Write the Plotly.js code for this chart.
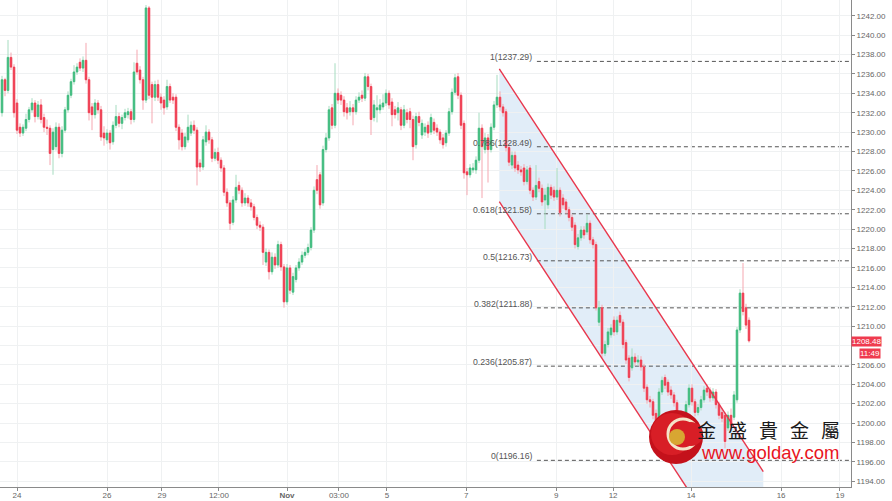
<!DOCTYPE html>
<html>
<head>
<meta charset="utf-8">
<script src="https://cdn.plot.ly/plotly-3.0.1.min.js"></script>
<style>html,body{margin:0;padding:0;background:#fff;}#chart{width:892px;height:501px;}</style>
</head>
<body>
<div id="chart"></div>
<script>
// ---- data (XAUUSD candles) ----
const openP = [1232.0,1235.4,1234.3,1237.7,1236.7,1233.0,1230.5,1229.9,1230.4,1231.3,1232.3,1233.0,1231.6,1232.8,1231.5,1230.5,1230.4,1228.2,1228.5,1230.5,
1227.8,1230.2,1232.3,1233.8,1235.2,1236.2,1237.2,1236.6,1237.4,1235.4,1232.6,1231.8,1233.0,1232.3,1229.9,1229.2,1229.9,1229.0,1230.7,1231.6,
1230.9,1231.5,1231.8,1232.1,1231.3,1237.1,1236.4,1235.4,1233.3,1242.8,1234.9,1233.6,1234.9,1233.6,1233.3,1232.6,1234.7,1233.6,1233.6,1230.5,
1229.9,1228.5,1229.2,1229.9,1230.7,1230.2,1226.8,1226.4,1229.0,1230.0,1229.2,1227.3,1227.9,1227.1,1226.3,1223.8,1222.7,1220.7,1223.0,1224.5,
1224.0,1222.7,1223.2,1222.7,1222.3,1221.2,1220.4,1220.2,1216.6,1217.6,1215.6,1217.1,1216.3,1218.4,1216.1,1212.5,1216.0,1213.5,1214.8,1216.0,
1216.6,1217.3,1217.6,1218.1,1219.9,1225.1,1225.6,1222.7,1228.2,1229.4,1232.5,1230.7,1234.0,1233.8,1233.3,1232.5,1232.1,1232.5,1232.1,1233.3,
1233.8,1233.5,1235.7,1234.7,1231.5,1232.3,1232.3,1232.6,1233.0,1234.0,1233.1,1232.3,1232.0,1232.3,1230.7,1232.0,1232.1,1231.3,1228.7,1231.6,
1229.7,1230.0,1230.7,1230.0,1231.0,1230.4,1230.0,1229.4,1228.9,1229.9,1232.1,1234.1,1235.7,1233.8,1230.9,1225.9,1225.6,1226.1,1226.1,1227.1,
1230.4,1228.2,1229.4,1228.2,1230.5,1232.8,1233.6,1232.6,1232.1,1228.4,1226.6,1227.6,1226.6,1226.1,1226.3,1224.9,1226.3,1224.0,1223.3,1224.9,
1224.2,1223.0,1222.5,1224.3,1224.0,1223.3,1224.0,1223.2,1222.8,1222.0,1221.2,1220.4,1218.2,1219.1,1219.9,1219.7,1220.6,1218.9,1218.4,1210.4,
1211.9,1207.2,1208.1,1209.1,1210.6,1209.4,1211.1,1210.4,1208.3,1206.7,1205.7,1206.8,1206.3,1206.5,1205.8,1203.7,1202.4,1202.2,1201.0,1200.3,
1203.2,1204.7,1204.2,1203.4,1202.9,1202.1,1200.5,1197.9,1199.5,1201.9,1203.6,1202.2,1201.1,1201.6,1202.4,1203.6,1203.4,1202.6,1203.2,1201.9,
1201.1,1200.8,1199.5,1200.8,1200.6,1202.4,1209.6,1213.4,1211.9,1210.6];
const highP = [1235.8,1235.6,1239.5,1238.2,1237.0,1233.4,1230.9,1230.8,1231.9,1232.6,1233.5,1233.3,1233.2,1233.4,1231.9,1231.3,1230.7,1230.4,1231.0,1230.9,
1230.6,1232.6,1234.2,1235.5,1236.9,1237.1,1237.6,1237.8,1239.2,1235.7,1233.0,1233.4,1233.3,1232.7,1230.6,1230.3,1230.2,1231.1,1232.8,1232.0,
1231.8,1232.4,1232.5,1232.4,1237.2,1238.5,1236.8,1235.7,1243.1,1243.0,1235.2,1235.3,1235.4,1234.0,1233.7,1235.4,1235.0,1234.0,1233.9,1230.8,
1230.3,1229.9,1231.8,1231.1,1231.2,1230.5,1227.2,1229.6,1230.7,1230.3,1229.5,1228.3,1228.4,1227.4,1226.6,1224.2,1223.0,1223.4,1225.6,1224.9,
1224.3,1223.7,1223.5,1223.1,1222.6,1221.5,1220.8,1220.5,1218.0,1217.9,1217.6,1217.5,1218.8,1218.7,1216.4,1216.4,1216.3,1215.5,1216.3,1217.0,
1217.7,1218.0,1218.5,1220.2,1224.4,1226.6,1225.9,1228.6,1229.9,1232.7,1232.9,1237.1,1234.5,1234.2,1233.7,1233.0,1233.2,1232.9,1233.7,1234.1,
1234.3,1236.1,1236.0,1235.0,1233.3,1233.8,1233.4,1233.9,1234.4,1234.3,1233.5,1232.7,1233.1,1232.6,1232.8,1232.4,1232.5,1231.7,1232.0,1232.1,
1231.3,1230.9,1231.1,1231.9,1231.4,1230.8,1230.3,1229.8,1230.2,1232.5,1234.5,1236.0,1236.1,1234.1,1231.2,1226.3,1226.7,1226.8,1227.5,1232.0,
1230.8,1229.9,1229.8,1230.9,1233.2,1235.9,1234.2,1232.9,1232.4,1228.7,1228.0,1228.0,1227.0,1226.5,1226.7,1226.5,1226.6,1224.3,1226.6,1225.3,
1224.6,1224.2,1224.7,1224.6,1224.4,1226.3,1224.3,1223.6,1223.1,1222.3,1221.5,1220.7,1219.5,1220.3,1220.3,1221.5,1220.9,1219.2,1218.7,1212.6,
1212.2,1208.5,1209.8,1210.2,1211.0,1211.0,1211.5,1210.7,1208.6,1207.0,1207.7,1207.2,1207.0,1206.9,1206.1,1204.0,1202.8,1202.5,1201.4,1203.6,
1204.8,1205.0,1204.5,1203.8,1203.2,1202.4,1200.8,1199.9,1202.3,1204.0,1204.0,1202.5,1202.0,1202.8,1203.8,1204.0,1203.7,1203.6,1203.5,1202.2,
1201.5,1201.1,1201.2,1201.5,1203.3,1209.9,1213.8,1216.5,1212.3,1210.9];
const lowP = [1231.6,1233.7,1234.0,1236.4,1231.5,1229.8,1229.5,1229.6,1230.1,1231.0,1232.0,1231.0,1231.3,1230.9,1230.0,1229.7,1226.6,1225.6,1228.1,1227.3,
1227.4,1229.9,1232.0,1233.5,1234.9,1235.9,1236.3,1236.2,1235.0,1231.2,1230.2,1231.4,1231.9,1229.1,1228.6,1228.8,1228.2,1228.7,1230.4,1230.5,
1230.3,1231.2,1231.4,1230.8,1231.0,1235.9,1235.0,1232.3,1233.0,1233.4,1230.9,1233.2,1233.2,1232.3,1231.8,1232.3,1233.0,1232.9,1230.1,1228.2,
1228.1,1228.2,1228.9,1229.6,1229.8,1224.5,1225.9,1226.1,1228.6,1228.8,1226.9,1227.0,1226.7,1225.9,1223.4,1222.3,1219.9,1220.4,1222.7,1223.6,
1222.3,1222.4,1222.3,1221.9,1220.9,1220.0,1219.8,1216.3,1216.2,1214.8,1215.3,1215.9,1216.0,1215.7,1211.9,1212.2,1213.3,1213.2,1214.5,1215.7,
1216.3,1217.0,1217.3,1217.8,1219.6,1223.6,1222.1,1222.4,1227.9,1229.1,1230.3,1230.4,1232.9,1232.8,1231.6,1231.3,1231.7,1230.7,1231.8,1233.0,
1233.1,1233.2,1234.3,1229.7,1231.1,1231.0,1231.9,1232.3,1232.7,1232.4,1230.6,1231.4,1231.2,1230.2,1230.4,1230.9,1230.4,1227.1,1228.3,1230.6,
1229.3,1229.6,1229.4,1229.7,1229.8,1229.6,1228.8,1228.3,1228.5,1229.6,1231.8,1233.8,1233.4,1230.3,1225.2,1223.5,1225.3,1225.8,1225.7,1226.8,
1223.2,1227.8,1224.8,1227.9,1230.2,1232.5,1232.2,1231.6,1228.0,1226.5,1226.2,1225.9,1225.7,1225.5,1224.5,1224.6,1223.6,1222.9,1223.0,1223.8,
1222.4,1220.0,1222.1,1223.1,1222.9,1223.0,1221.3,1222.1,1221.6,1220.8,1219.8,1218.0,1217.9,1218.8,1219.0,1219.4,1218.5,1218.0,1211.6,1210.0,
1206.7,1206.9,1207.8,1208.8,1209.0,1209.1,1210.0,1207.7,1206.1,1204.3,1205.4,1205.9,1205.9,1205.4,1203.2,1202.0,1201.6,1200.4,1199.6,1200.0,
1202.9,1203.5,1202.8,1202.5,1201.7,1200.1,1197.4,1197.6,1199.2,1201.6,1201.8,1200.7,1200.8,1201.3,1202.1,1202.8,1202.2,1202.3,1201.5,1200.4,
1200.1,1197.4,1199.2,1199.4,1200.3,1202.1,1209.3,1211.1,1209.7,1208.3];
const closeP = [1235.4,1234.3,1237.7,1236.7,1232.0,1230.2,1229.9,1230.5,1231.3,1232.3,1233.0,1231.6,1232.8,1231.3,1230.5,1230.4,1227.8,1230.0,1230.5,1227.8,
1230.2,1232.3,1233.8,1235.2,1236.2,1236.7,1236.6,1237.4,1235.4,1232.0,1231.8,1233.0,1232.3,1229.5,1229.4,1229.9,1228.9,1230.7,1231.6,1230.9,
1231.5,1232.0,1232.1,1231.3,1236.2,1236.2,1235.4,1233.3,1242.8,1233.8,1233.6,1234.9,1233.6,1233.0,1232.5,1234.7,1233.3,1233.3,1230.5,1229.2,
1228.5,1229.5,1230.5,1230.7,1230.2,1226.4,1226.4,1229.2,1230.0,1229.2,1227.3,1227.9,1227.1,1226.3,1223.8,1222.7,1220.6,1223.0,1224.3,1224.0,
1222.7,1223.2,1222.7,1222.3,1221.2,1220.4,1220.2,1217.6,1217.6,1215.6,1217.1,1216.3,1218.4,1216.1,1212.5,1216.0,1213.7,1215.1,1216.0,1216.6,
1217.3,1217.6,1218.1,1219.9,1224.0,1224.0,1222.5,1228.2,1229.4,1232.3,1230.7,1234.0,1233.3,1233.3,1232.1,1232.0,1232.5,1232.1,1233.3,1233.6,
1233.5,1235.7,1234.7,1231.3,1232.8,1232.5,1232.8,1233.0,1234.0,1232.8,1231.8,1231.8,1232.5,1230.7,1232.3,1231.3,1231.3,1228.5,1231.6,1231.0,
1230.9,1230.5,1229.9,1231.5,1230.2,1230.0,1229.2,1228.7,1229.9,1232.1,1234.1,1235.6,1233.8,1230.7,1225.8,1225.6,1226.3,1226.3,1227.1,1230.4,
1228.5,1229.4,1228.2,1230.5,1232.8,1233.6,1232.6,1232.0,1228.4,1226.9,1227.6,1226.3,1226.1,1225.9,1224.9,1226.1,1224.0,1223.3,1224.5,1224.2,
1222.8,1223.5,1224.3,1223.5,1223.3,1224.0,1221.7,1222.5,1222.0,1221.2,1220.2,1218.4,1219.1,1219.9,1219.4,1220.6,1218.9,1218.4,1211.9,1211.9,
1207.2,1208.1,1209.4,1209.8,1209.4,1210.6,1210.4,1208.1,1206.5,1204.7,1206.8,1206.3,1206.5,1205.8,1203.6,1202.4,1202.2,1200.8,1200.1,1203.2,
1204.4,1203.9,1203.2,1202.9,1202.1,1200.5,1198.3,1199.5,1201.9,1203.6,1202.2,1201.1,1201.6,1202.4,1203.4,1203.2,1202.6,1203.2,1201.9,1200.8,
1200.5,1198.1,1200.8,1199.8,1202.9,1209.6,1213.4,1211.5,1210.1,1208.48];

// x axis date labels and the bar position where each falls
const tickBars   = [5, 35, 53.3, 72.3, 95, 112.3, 128.3, 154.7, 184.7, 203.7, 229.7, 259.7, 279.3];
const tickLabels = ['24','26','29','12:00','<b>Nov</b>','03:00','5','7','9','12','14','16','19'];

// price axis ticks (the 1208.00 label is hidden behind the last-price tag)
const yTickVals = [1194,1196,1198,1200,1202,1204,1206,1208,1210,1212,1214,1216,1218,1220,1222,1224,1226,1228,1230,1232,1234,1236,1238,1240,1242];
const yTickText = ['1194.00','1196.00','1198.00','1200.00','1202.00','1204.00','1206.00','','1210.00','1212.00','1214.00','1216.00','1218.00','1220.00','1222.00','1224.00','1226.00','1228.00','1230.00','1232.00','1234.00','1236.00','1238.00','1240.00','1242.00'];

// Fibonacci retracement
const fibRatios = ['1','0.786','0.618','0.5','0.382','0.236','0'];
const fibPrices = [1237.29, 1228.49, 1221.58, 1216.73, 1211.88, 1205.87, 1196.16];
const fibStartBar = 178.3;

// descending parallel channel (bar, price)
const channelBars  = [165.77, 253.77];
const channelUpper = [1236.51, 1194.99];
const channelLower = [1222.82, 1181.30];

const lastPrice = 1208.48;
const lastTime = '11:49';

// ---- drawing ----
const N = closeP.length;
const bars = Array.from({length: N}, (_, i) => i);
const bodyHigh = openP.map((o, i) => Math.max(o, closeP[i]));
const bodyLow  = openP.map((o, i) => Math.min(o, closeP[i]));

const UP = '#3dbb7d', DOWN = '#ef3b4f';
const UPW = '#a6dcc0', DOWNW = '#f5a7b0';

const wick = {
  type: 'candlestick', x: bars, open: openP, high: highP, low: lowP, close: closeP,
  increasing: {line: {color: UPW, width: 1}, fillcolor: UPW},
  decreasing: {line: {color: DOWNW, width: 1}, fillcolor: DOWNW},
  whiskerwidth: 0, hoverinfo: 'skip', showlegend: false
};
const body = {
  type: 'candlestick', x: bars, open: openP, high: bodyHigh, low: bodyLow, close: closeP,
  increasing: {line: {color: UP, width: 0.8}, fillcolor: UP},
  decreasing: {line: {color: DOWN, width: 0.8}, fillcolor: DOWN},
  whiskerwidth: 0, hoverinfo: 'skip', showlegend: false
};

const xRange = [-2/3, 283];
const W = 851, H = 487;

const shapes = [];
// channel fill
shapes.push({
  type: 'path', xref: 'x', yref: 'y', layer: 'below',
  path: `M ${channelBars[0]},${channelUpper[0]} L ${channelBars[1]},${channelUpper[1]} L ${channelBars[1]},${channelLower[1]} L ${channelBars[0]},${channelLower[0]} Z`,
  fillcolor: 'rgba(200,222,243,0.55)', line: {width: 0}
});
// fib lines
fibPrices.forEach(p => shapes.push({
  type: 'line', xref: 'x', yref: 'y', layer: 'below',
  x0: fibStartBar, x1: xRange[1], y0: p, y1: p,
  line: {color: '#555555', width: 1, dash: '4px,3px'}
}));
// channel lines
shapes.push({type: 'line', xref: 'x', yref: 'y', layer: 'above',
  x0: channelBars[0], x1: channelBars[1], y0: channelUpper[0], y1: channelUpper[1],
  line: {color: '#e8364c', width: 1.4}});
shapes.push({type: 'line', xref: 'x', yref: 'y', layer: 'above',
  x0: channelBars[0], x1: channelBars[1], y0: channelLower[0], y1: channelLower[1],
  line: {color: '#e8364c', width: 1.4}});

// logo (pixel sized circles anchored in paper coords)
function circ(cx, cy, r, fill, lineColor, lw) {
  return {type: 'circle', xref: 'paper', yref: 'paper', layer: 'above',
    xsizemode: 'pixel', ysizemode: 'pixel', xanchor: cx / W, yanchor: 1 - cy / H,
    x0: -r, x1: r, y0: -r, y1: r, fillcolor: fill,
    line: {color: lineColor || 'rgba(0,0,0,0)', width: lw || 0}};
}
shapes.push(circ(676, 437, 27, '#c4111b'));
shapes.push(circ(672, 434, 21, '#d81e26'));
shapes.push(circ(683, 434, 15, 'rgba(0,0,0,0)', '#f4e4c8', 3));
shapes.push(circ(691, 434, 12, '#d81e26'));
shapes.push(circ(677, 437, 8, '#d8a632'));

const annotations = [];
fibPrices.forEach((p, k) => annotations.push({
  xref: 'x', yref: 'y', x: fibStartBar - 1, y: p, xanchor: 'right', yanchor: 'middle',
  yshift: 4, showarrow: false, text: `${fibRatios[k]}(${p.toFixed(2)})`,
  font: {family: 'Liberation Sans, Arial, sans-serif', size: 8.7, color: '#555555'}
}));
// watermark
const brand = ['金','盛','貴','金','屬'];
brand.forEach((ch, k) => annotations.push({
  xref: 'paper', yref: 'paper', x: (706 + 31.2 * k) / W, y: 1 - 429 / H,
  xanchor: 'center', yanchor: 'middle', showarrow: false, text: ch,
  font: {family: 'Noto Sans CJK TC, Noto Sans CJK SC, sans-serif', size: 19, color: '#1a1a1a'}
}));
annotations.push({xref: 'paper', yref: 'paper', x: 770 / W, y: 1 - 452 / H,
  xanchor: 'center', yanchor: 'middle', showarrow: false, text: 'www.golday.com',
  font: {family: 'Liberation Sans, Arial, sans-serif', size: 18.5, color: '#e8141e'}});
// last price tags
annotations.push({xref: 'paper', yref: 'y', x: 1, y: lastPrice, xanchor: 'left', yanchor: 'bottom',
  yshift: -6, showarrow: false, text: lastPrice.toFixed(2), bgcolor: '#ef3b4f', borderpad: 0,
  font: {family: 'Liberation Sans, Arial, sans-serif', size: 8, color: '#ffffff'}});
annotations.push({xref: 'paper', yref: 'y', x: 881 / W, y: lastPrice, xanchor: 'right', yanchor: 'top',
  yshift: -7, showarrow: false, text: lastTime, bgcolor: '#ef3b4f', borderpad: 0,
  font: {family: 'Liberation Sans, Arial, sans-serif', size: 8, color: '#ffffff'}});

const layout = {
  width: 892, height: 501,
  margin: {l: 0, r: 41, t: 0, b: 14, pad: 0},
  paper_bgcolor: '#ffffff', plot_bgcolor: '#ffffff',
  showlegend: false, hovermode: false, dragmode: false,
  font: {family: 'Liberation Sans, Arial, sans-serif', size: 8, color: '#666666'},
  xaxis: {
    range: xRange, rangeslider: {visible: false}, type: 'linear',
    tickmode: 'array', tickvals: tickBars, ticktext: tickLabels,
    showgrid: true, gridcolor: '#eff1f2', gridwidth: 1, zeroline: false,
    showline: true, linecolor: '#8a8a8a', linewidth: 1,
    ticks: 'outside', ticklen: 3, tickcolor: '#8a8a8a', ticklabelstandoff: -3,
    tickfont: {size: 8, color: '#666666'}
  },
  yaxis: {
    range: [1193.41, 1243.62], side: 'right', tickmode: 'array',
    tickvals: yTickVals, ticktext: yTickText,
    showgrid: true, gridcolor: '#eff1f2', gridwidth: 1, zeroline: false,
    showline: true, linecolor: '#8a8a8a', linewidth: 1,
    ticks: 'outside', ticklen: 3, tickcolor: '#8a8a8a',
    tickfont: {size: 8, color: '#666666'}
  },
  shapes: shapes, annotations: annotations
};

Plotly.newPlot('chart', [wick, body], layout, {staticPlot: true, displayModeBar: false});
</script>
</body>
</html>
